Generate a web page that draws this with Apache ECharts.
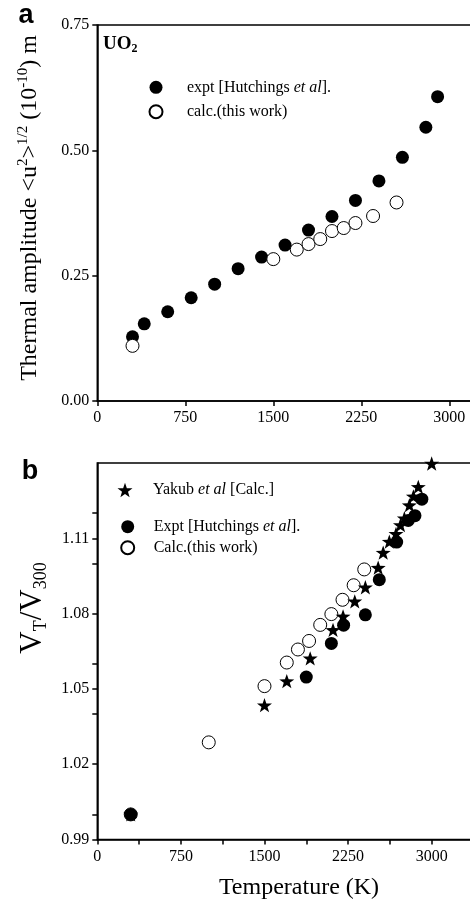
<!DOCTYPE html>
<html><head><meta charset="utf-8">
<script src="https://cdn.jsdelivr.net/npm/echarts@6/dist/echarts.min.js"></script>
<style>html,body{margin:0;padding:0;background:#fff}#c{width:470px;height:903px}</style>
</head><body><div id="c"></div><script>
// ---- data: panel a (thermal amplitude) ----
const tempA_expt = [300,400,600,800,1000,1200,1400,1600,1800,2000,2200,2400,2600,2800,2900];
const ampA_expt  = [0.128,0.154,0.178,0.206,0.233,0.264,0.287,0.311,0.341,0.368,0.400,0.439,0.486,0.546,0.607];
const tempA_calc = [300,1500,1700,1800,1900,2000,2100,2200,2350,2550];
const ampA_calc  = [0.110,0.283,0.302,0.313,0.323,0.339,0.345,0.355,0.369,0.396];
// ---- data: panel b (V_T/V_300) ----
const tempB_yakub = [300,1500,1700,1910,2115,2205,2310,2405,2520,2565,2620,2680,2720,2755,2800,2836,2880,3000];
const volB_yakub  = [1.000,1.0435,1.0531,1.0622,1.0735,1.0789,1.0849,1.0905,1.0983,1.1043,1.1087,1.1118,1.1153,1.1180,1.1232,1.1267,1.1305,1.1398];
const tempB_expt = [300,1875,2100,2210,2405,2530,2686,2790,2850,2912];
const volB_expt  = [1.000,1.0547,1.0681,1.0754,1.0795,1.0935,1.1085,1.1171,1.1190,1.1256];
const tempB_calc = [300,1000,1500,1700,1800,1900,2000,2100,2200,2300,2395];
const volB_calc  = [1.000,1.0287,1.0511,1.0605,1.0657,1.0691,1.0755,1.0798,1.0855,1.0913,1.0976];
// ---- ticks ----
const xTicks = [0,750,1500,2250,3000];
const xMinorB = [375,1125,1875,2625];
const yTicksA = [0,0.25,0.5,0.75];
const yTicksB = [0.99,1.02,1.05,1.08,1.11];
const yMinorB = [1.00,1.04,1.06,1.10,1.12];

const zip = (a,b) => a.map((v,i)=>[v,b[i]]);
const SERIF = 'Liberation Serif';
const STAR = 'path://M0,-100L23.5,-32.4L95.1,-30.9L38,12.4L58.8,80.9L0,40L-58.8,80.9L-38,12.4L-95.1,-30.9L-23.5,-32.4Z';
const legendText = {
  expt_a: '{n|expt [Hutchings }{i|et al}{n|].}',
  calc_a: '{n|calc.(this work)}',
  yakub: '{n|Yakub }{i|et al}{n| [Calc.]}',
  expt_b: '{n|Expt [Hutchings }{i|et al}{n|].}',
  calc_b: '{n|Calc.(this work)}'
};
const legRich = {n:{fontFamily:SERIF,fontSize:16,color:'#000'},i:{fontFamily:SERIF,fontSize:16,fontStyle:'italic',color:'#000'}};
const axisLine = {show:true,onZero:false,lineStyle:{color:'#000',width:1.5}};
const lbl = {fontFamily:SERIF,fontSize:16,color:'#000'};
const FILLED = {color:'#000',opacity:1};
const OPEN = {color:'#fff',borderColor:'#000',borderWidth:1,opacity:1};

const chart = echarts.init(document.getElementById('c'), null, {renderer:'canvas'});
chart.setOption({
  animation:false,
  backgroundColor:'#fff',
  grid:[
    {left:97.3,top:25,width:410.7,height:376,show:true,borderColor:'#000',borderWidth:1.5,outerBoundsMode:'none',containLabel:false},
    {left:97.3,top:463,width:390.1,height:376.5,show:true,borderColor:'#000',borderWidth:1.5,outerBoundsMode:'none',containLabel:false}
  ],
  xAxis:[
    {gridIndex:0,type:'value',min:0,max:3500,interval:750,axisLine,
     axisTick:{show:true,length:5,lineStyle:{color:'#000',width:1.5},customValues:xTicks},
     axisLabel:Object.assign({margin:9,customValues:xTicks,formatter:v=>String(v)},lbl),splitLine:{show:false}},
    {gridIndex:1,type:'value',min:0,max:3500,interval:750,axisLine,
     axisTick:{show:true,length:5,lineStyle:{color:'#000',width:1.5},customValues:xTicks.concat(xMinorB)},
     axisLabel:Object.assign({margin:9,customValues:xTicks,formatter:v=>String(v)},lbl),splitLine:{show:false}}
  ],
  yAxis:[
    {gridIndex:0,type:'value',min:0,max:0.75,interval:0.25,axisLine,
     axisTick:{show:true,length:5,lineStyle:{color:'#000',width:1.5},customValues:yTicksA},
     axisLabel:Object.assign({margin:8,customValues:yTicksA,formatter:v=>v.toFixed(2)},lbl),splitLine:{show:false}},
    {gridIndex:1,type:'value',min:0.99,max:1.14,axisLine,
     axisTick:{show:true,length:5,lineStyle:{color:'#000',width:1.5},customValues:yTicksB.concat(yMinorB)},
     axisLabel:Object.assign({margin:8,customValues:yTicksB,formatter:v=>v.toFixed(2)},lbl),splitLine:{show:false}}
  ],
  legend:[
    {data:['expt_a','calc_a'],orient:'vertical',left:148.5,top:79.3,padding:0,itemWidth:13,itemHeight:13,itemGap:8.4,
     formatter:n=>legendText[n],textStyle:{rich:legRich,padding:[0,0,0,19.5]},selectedMode:false},
    {data:['yakub'],orient:'vertical',left:117.5,top:482,padding:0,itemWidth:15,itemHeight:15,
     formatter:n=>legendText[n],textStyle:{rich:legRich,padding:[0,0,0,15.5]},selectedMode:false},
    {data:['expt_b','calc_b'],orient:'vertical',left:120.2,top:518.7,padding:0,itemWidth:13,itemHeight:13,itemGap:5,
     formatter:n=>legendText[n],textStyle:{rich:legRich,padding:[0,0,0,14.5]},selectedMode:false}
  ],
  series:[
    {type:'scatter',name:'expt_a',xAxisIndex:0,yAxisIndex:0,data:zip(tempA_expt,ampA_expt),symbol:'circle',symbolSize:13,
     itemStyle:FILLED,clip:false,emphasis:{disabled:true}},
    {type:'scatter',name:'calc_a',xAxisIndex:0,yAxisIndex:0,data:zip(tempA_calc,ampA_calc),symbol:'circle',symbolSize:13,
     itemStyle:OPEN,clip:false,emphasis:{disabled:true}},
    {type:'scatter',name:'calc_b',xAxisIndex:1,yAxisIndex:1,data:zip(tempB_calc,volB_calc),symbol:'circle',symbolSize:13,
     itemStyle:OPEN,clip:false,emphasis:{disabled:true}},
    {type:'scatter',name:'expt_b',xAxisIndex:1,yAxisIndex:1,data:zip(tempB_expt,volB_expt),symbol:'circle',symbolSize:13,
     itemStyle:FILLED,clip:false,emphasis:{disabled:true}},
    {type:'scatter',name:'yakub',xAxisIndex:1,yAxisIndex:1,data:zip(tempB_yakub,volB_yakub),symbol:STAR,symbolSize:[15,15],symbolKeepAspect:true,
     itemStyle:FILLED,clip:false,emphasis:{disabled:true}}
  ],
  graphic:[
    {type:'text',x:26,y:16,style:{text:'a',font:'bold 27px "Liberation Sans"',fill:'#000',align:'center',verticalAlign:'middle'}},
    {type:'text',x:30,y:472,style:{text:'b',font:'bold 27px "Liberation Sans"',fill:'#000',align:'center',verticalAlign:'middle'}},
    {type:'text',x:103,y:44,style:{text:'{n|UO}{s|2}',fill:'#000',align:'left',verticalAlign:'middle',
      rich:{n:{fontFamily:SERIF,fontWeight:'bold',fontSize:19,lineHeight:22,verticalAlign:'middle'},
            s:{fontFamily:SERIF,fontWeight:'bold',fontSize:12,lineHeight:12,verticalAlign:'bottom'}}}},
    {type:'text',x:30,y:208,rotation:Math.PI/2,style:{text:'{n|Thermal amplitude <u}{s|2}{n|>}{s|1/2}{n| (10}{s|-10}{n|) m}',fill:'#000',align:'center',verticalAlign:'middle',
      rich:{n:{fontFamily:SERIF,fontSize:24,lineHeight:28,verticalAlign:'middle'},
            s:{fontFamily:SERIF,fontSize:15,lineHeight:15,verticalAlign:'top'}}}},
    {type:'text',x:33,y:608,rotation:Math.PI/2,style:{text:'{n|V}{b|T}{n|/V}{b|300}',fill:'#000',align:'center',verticalAlign:'middle',
      rich:{n:{fontFamily:SERIF,fontSize:31,lineHeight:34,verticalAlign:'middle'},
            b:{fontFamily:SERIF,fontSize:18,lineHeight:18,verticalAlign:'bottom'}}}},
    {type:'text',x:299,y:888,style:{text:'Temperature (K)',font:'24px "Liberation Serif"',fill:'#000',align:'center',verticalAlign:'middle'}}
  ]
});
</script></body></html>
